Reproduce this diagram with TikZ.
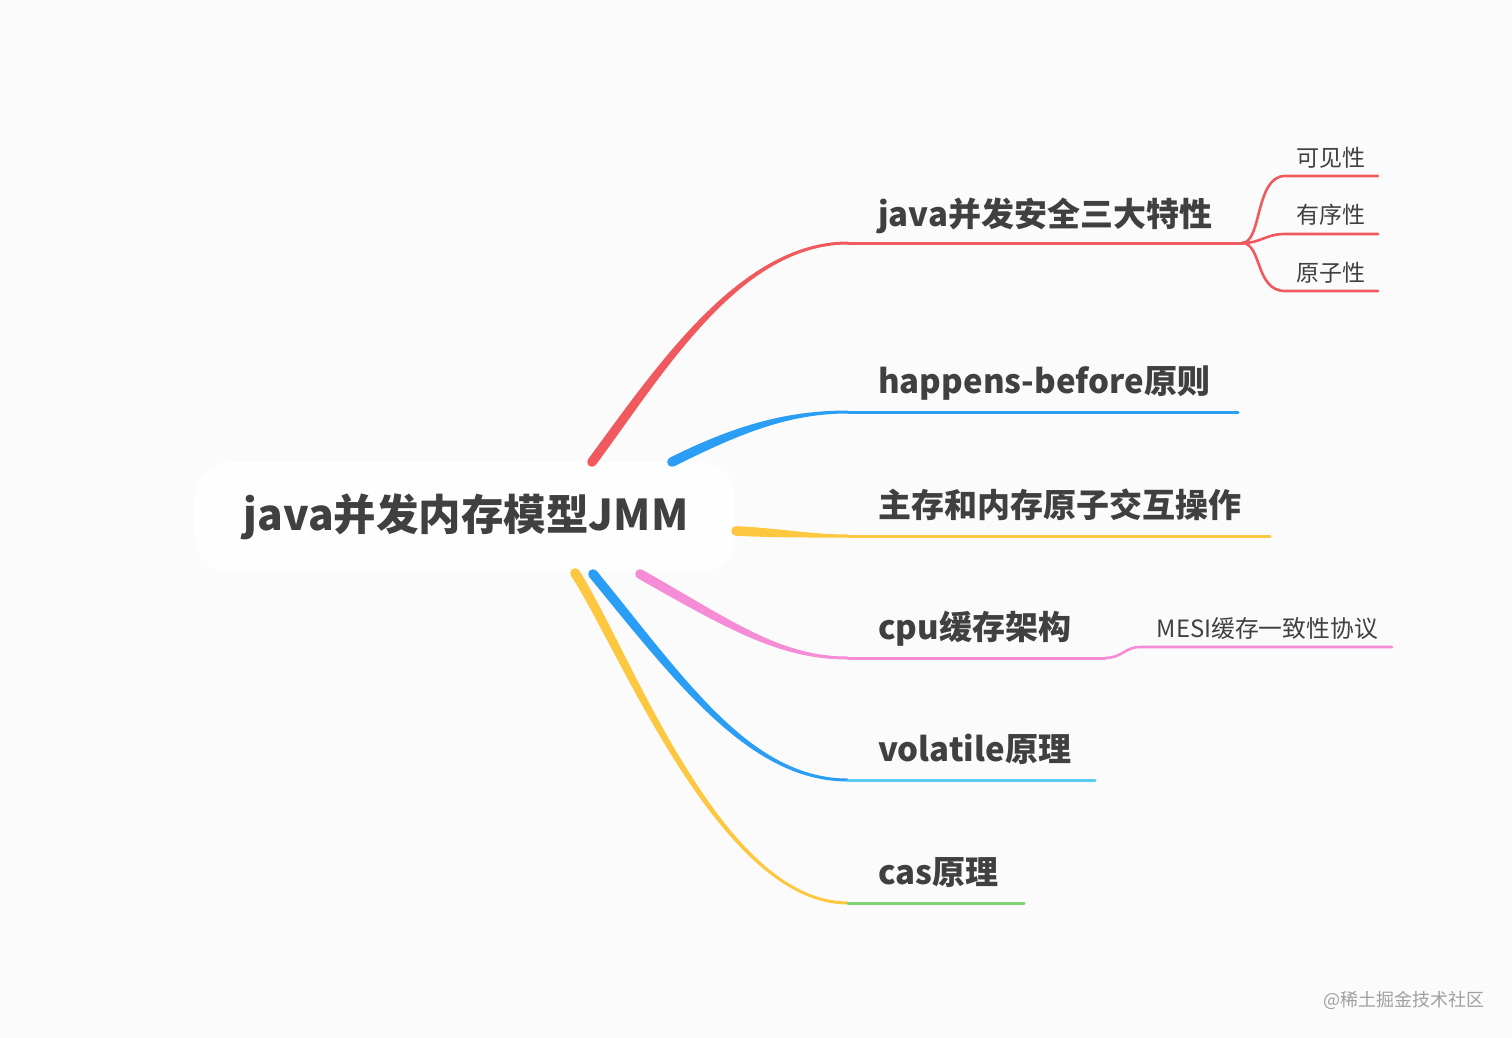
\documentclass[tikz,border=0pt]{standalone}
\usepackage{fontspec}
\newfontfamily\cjk{Noto Sans CJK SC}
\usetikzlibrary{calc}
\definecolor{bg}{HTML}{FBFBFB}
\definecolor{boxc}{HTML}{FEFEFE}
\definecolor{txt}{HTML}{404040}
\definecolor{cred}{HTML}{F05A5F}
\definecolor{cblue}{HTML}{2A9DF4}
\definecolor{cyel}{HTML}{FDC73F}
\definecolor{cpink}{HTML}{F48CD6}
\definecolor{ccyan}{HTML}{5CCAF0}
\definecolor{cgreen}{HTML}{7DD66F}
\definecolor{wm}{HTML}{A0A0A0}
\newcommand\taper[7]{%
  \coordinate (a0) at ($(#1)!#5!90:(#2)$);
  \coordinate (b0) at ($(#1)!#5!-90:(#2)$);
  \coordinate (a3) at ($(#4)!#6!-90:(#3)$);
  \coordinate (b3) at ($(#4)!#6!90:(#3)$);
  \fill[#7] (a0) .. controls ($(#2)+(a0)-(#1)$) and ($(#3)+(a3)-(#4)$) .. (a3)
     -- (b3) .. controls ($(#3)+(b3)-(#4)$) and ($(#2)+(b0)-(#1)$) .. (b0) -- cycle;
  \fill[#7] (#1) circle (#5);
}
\tikzset{
  lbl/.style={anchor=base west, inner sep=0pt, text=txt, font=\cjk\bfseries\fontsize{33}{40}\selectfont},
  sublbl/.style={anchor=base east, inner sep=0pt, text=txt, font=\cjk\fontsize{23}{28}\selectfont},
  hline/.style={line width=3pt, line cap=round},
  subline/.style={line width=2.6pt, line cap=round}
}
\begin{document}
\begin{tikzpicture}[x=1pt,y=-1pt]
\fill[bg] (0,0) rectangle (1512,1038);
\useasboundingbox (0,0) rectangle (1512,1038);
% root
\node[fill=boxc, rounded corners=35pt, minimum width=540pt, minimum height=110pt, inner sep=0pt] (root) at (465,517) {};
\node[text=txt, font=\cjk\bfseries\fontsize{42.5}{50}\selectfont, inner sep=0pt] (roottxt) at (466,517) {java并发内存模型JMM};
% anchor coordinates
\coordinate (s1) at (592,462); \coordinate (c1a) at (660,370); \coordinate (c1b) at (740,243); \coordinate (e1) at (848,243); \coordinate (f1) at (1242,243);
\coordinate (s2) at (672,462); \coordinate (c2a) at (740,428); \coordinate (c2b) at (790,412); \coordinate (e2) at (848,412); \coordinate (f2) at (1238,412);
\coordinate (s3) at (736,531); \coordinate (c3a) at (780,533); \coordinate (c3b) at (810,536); \coordinate (e3) at (848,536); \coordinate (f3) at (1270,536);
\coordinate (s4) at (640,574); \coordinate (c4a) at (730,625); \coordinate (c4b) at (780,658); \coordinate (e4) at (848,658); \coordinate (f4) at (1105,658);
\coordinate (s5) at (593,574); \coordinate (c5a) at (680,680); \coordinate (c5b) at (750,780); \coordinate (e5) at (848,780); \coordinate (f5) at (1095,780);
\coordinate (s6) at (575,573); \coordinate (c6a) at (625,650); \coordinate (c6b) at (720,903); \coordinate (e6) at (848,903); \coordinate (f6) at (1024,903);
% branches
\taper{s1}{c1a}{c1b}{e1}{4.8pt}{1.5pt}{cred}
\draw[hline, cred] (e1) -- (f1);
\taper{s2}{c2a}{c2b}{e2}{4.8pt}{1.5pt}{cblue}
\draw[hline, cblue] (e2) -- (f2);
\taper{s3}{c3a}{c3b}{e3}{4.8pt}{1.5pt}{cyel}
\draw[hline, cyel] (e3) -- (f3);
\taper{s4}{c4a}{c4b}{e4}{4.8pt}{1.5pt}{cpink}
\draw[hline, cpink] (e4) -- (f4);
\taper{s5}{c5a}{c5b}{e5}{4.8pt}{1.5pt}{cblue}
\draw[hline, ccyan] (e5) -- (f5);
\taper{s6}{c6a}{c6b}{e6}{4.8pt}{1.5pt}{cyel}
\draw[hline, cgreen] (e6) -- (f6);
% red sub-branches
\coordinate (r1) at (1285,176); \coordinate (r1e) at (1378,176);
\coordinate (r2) at (1285,234); \coordinate (r2e) at (1378,234);
\coordinate (r3) at (1285,291); \coordinate (r3e) at (1378,291);
\draw[subline, cred] (f1) .. controls (1262,243) and (1255,176) .. (r1) -- (r1e);
\draw[subline, cred] (f1) .. controls (1262,243) and (1265,234) .. (r2) -- (r2e);
\draw[subline, cred] (f1) .. controls (1262,243) and (1255,291) .. (r3) -- (r3e);
% pink sub-branch
\coordinate (p1) at (1140,647); \coordinate (p1e) at (1392,647);
\draw[subline, cpink] (f4) .. controls (1122,658) and (1125,647) .. (p1) -- (p1e);
% labels
\node[lbl] (l1) at (878,226) {java并发安全三大特性};
\node[lbl] (l2) at (878,393) {happens-before原则};
\node[lbl] (l3) at (878,517) {主存和内存原子交互操作};
\node[lbl] (l4) at (878,639) {cpu缓存架构};
\node[lbl] (l5) at (878,761) {volatile原理};
\node[lbl] (l6) at (878,884) {cas原理};
\node[sublbl] (t1) at (1366,166) {可见性};
\node[sublbl] (t2) at (1366,223) {有序性};
\node[sublbl] (t3) at (1366,281) {原子性};
\node[sublbl, font=\cjk\fontsize{23.8}{28}\selectfont] (t4) at (1378,637) {MESI缓存一致性协议};
\node[anchor=base east, inner sep=0pt, text=wm, font=\cjk\fontsize{18}{22}\selectfont] (wmk) at (1485,1006) {@稀土掘金技术社区};
\end{tikzpicture}
\end{document}
